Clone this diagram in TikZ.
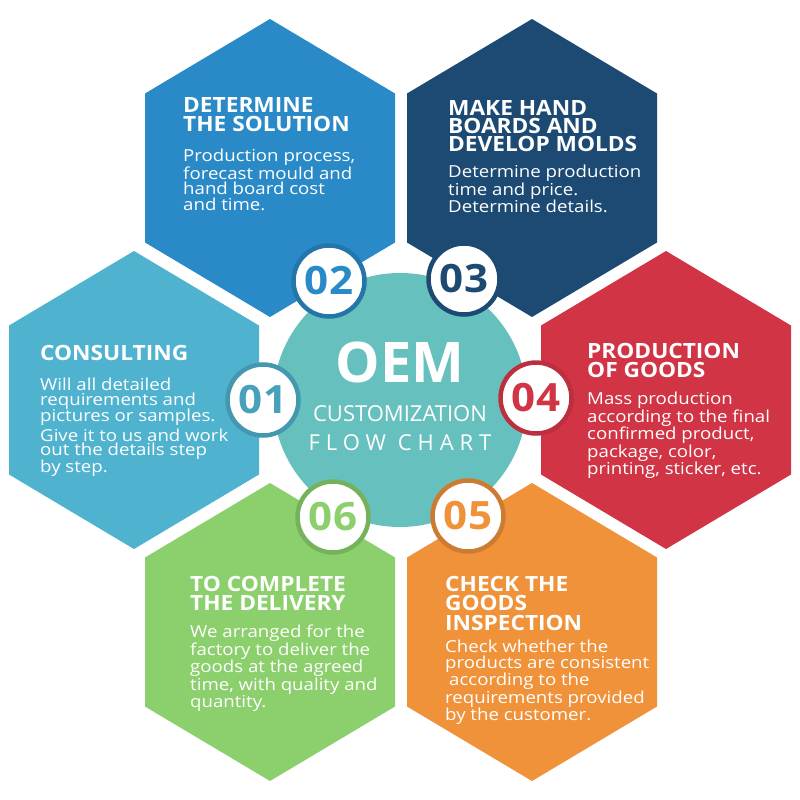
\documentclass[tikz,border=0pt]{standalone}
\usepackage{fontspec}
\setmainfont{Open Sans}
\newfontfamily\spacedfont{Open Sans}[LetterSpace=27]
\newfontfamily\headfont{Open Sans}[FakeStretch=1.08]
\newfontfamily\bodyfont{Open Sans}[FakeStretch=1.13]
\usetikzlibrary{positioning}
\definecolor{cons}{RGB}{79,179,207}
\definecolor{solu}{RGB}{42,138,199}
\definecolor{mold}{RGB}{28,74,115}
\definecolor{prod}{RGB}{208,52,69}
\definecolor{insp}{RGB}{239,146,58}
\definecolor{deli}{RGB}{139,208,108}
\definecolor{hubc}{RGB}{102,193,190}

\begin{document}
\begin{tikzpicture}[
    x=1pt, y=-1pt,
    pics/hexa/.style={code={\fill[#1] (0,-149) -- (125,-74.5) -- (125,74.5) -- (0,149) -- (-125,74.5) -- (-125,-74.5) -- cycle;}},
    badge/.style={circle, fill=white, line width=4.5pt, minimum size=71pt, inner sep=0pt, font=\headfont\bfseries\fontsize{39}{39}\selectfont},
    title/.style={anchor=north west, inner sep=0pt, align=left, text=white, font=\headfont\bfseries\fontsize{21}{19.5}\selectfont},
    body/.style={anchor=north west, inner sep=0pt, align=left, text=white, font=\bodyfont\fontsize{16.5}{15.4}\selectfont},
]
    \useasboundingbox[fill=white] (0,0) rectangle (800,800);

    % hexagon centres
    \coordinate (h1) at (134,400);
    \coordinate (h2) at (270,168);
    \coordinate (h3) at (532,168);
    \coordinate (h4) at (666,400);
    \coordinate (h5) at (532,632);
    \coordinate (h6) at (270,632);

    \pic at (h1) {hexa=cons};
    \pic at (h2) {hexa=solu};
    \pic at (h3) {hexa=mold};
    \pic at (h4) {hexa=prod};
    \pic at (h5) {hexa=insp};
    \pic at (h6) {hexa=deli};

    % centre circle
    \node[circle, fill=hubc, minimum size=254pt, inner sep=0pt] (hub) at (400,400) {};
    \node[text=white, inner sep=0pt, font=\bfseries\fontsize{56}{56}\selectfont] (oem) at (400,362) {OEM};
    \node[text=white, inner sep=0pt, font=\fontsize{22}{22}\selectfont] (cust) at (400,413.5) {CUSTOMIZATION};
    \node[text=white, inner sep=0pt, font=\spacedfont\fontsize{22}{22}\selectfont] (flow) at (400,442.5) {FLOW CHART};

    % number badges
    \node[badge, draw=cons!85!black, text=cons!90!black] (b1) at (263,400) {01};
    \node[badge, draw=solu!85!black, text=solu] (b2) at (329,281) {02};
    \node[badge, draw=mold, text=mold] (b3) at (464,279) {03};
    \node[badge, draw=prod!90!black, text=prod] (b4) at (536,398) {04};
    \node[badge, draw=insp!85!black, text=insp] (b5) at (468,516) {05};
    \node[badge, draw=deli!85!black, text=deli] (b6) at (333,517) {06};

    % step texts
    \node[title] (t1) at (40,345) {CONSULTING};
    \node[body] (d1) at (40,378) {Will all detailed\\[-1pt]requirements and\\[-1pt]pictures or samples.\\[2pt]Give it to us and work\\[-1pt]out the details step\\[-1pt]by step.};

    \node[title] (t2) at (183,97) {DETERMINE\\THE SOLUTION};
    \node[body] (d2) at (183,149) {Production process,\\forecast mould and\\hand board cost\\and time.};

    \node[title] (t3) at (448,100) {MAKE HAND\\[-1.5pt]BOARDS AND\\[-1.5pt]DEVELOP MOLDS};
    \node[body] (d3) at (448,165) {Determine production\\time and price.\\Determine details.};

    \node[title] (t4) at (587,343) {PRODUCTION\\OF GOODS};
    \node[body] (d4) at (587,392) {Mass production\\according to the final\\confirmed product,\\package, color,\\printing, sticker, etc.};

    \node[title] (t5) at (445,576) {CHECK THE\\GOODS\\INSPECTION};
    \node[body] (d5) at (445,640) {Check whether the\\products are consistent\\\hspace{4pt}according to the\\requirements provided\\by the customer.};

    \node[title] (t6) at (190,576) {TO COMPLETE\\THE DELIVERY};
    \node[body] (d6) at (190,625) {We arranged for the\\factory to deliver the\\goods at the agreed\\time, with quality and\\quantity.};
\end{tikzpicture}
\end{document}
